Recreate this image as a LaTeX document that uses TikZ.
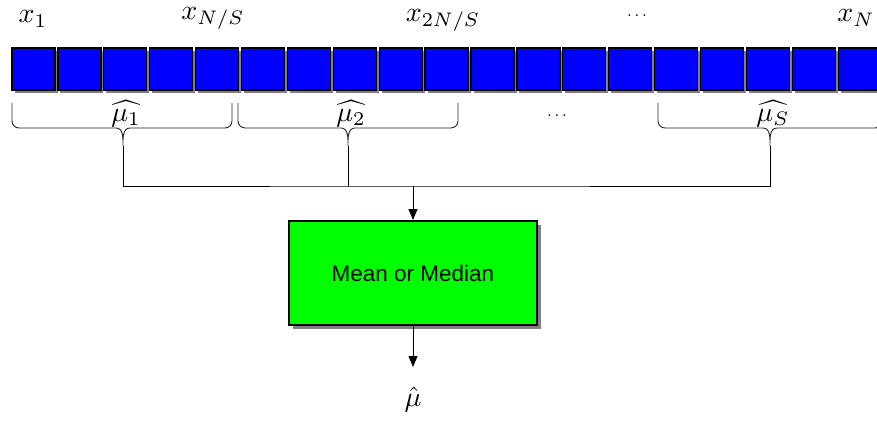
\documentclass[tikz,border=0pt]{standalone}
\usepackage{graphicx}
\usepackage{fontspec}
\newfontfamily\arialfont{Liberation Sans}
\usetikzlibrary{arrows.meta,shadows}
\newcommand\lblmath[1]{\scalebox{2.8}{$#1$}}
\newcommand\lbldots{\scalebox{1.7}{$\ldots$}}
\begin{document}
\begin{tikzpicture}[x=1pt,y=-1pt,
  cell/.style={draw=black,line width=1.3pt,fill=blue,minimum width=43pt,minimum height=42pt,inner sep=0pt,
    drop shadow={shadow xshift=2.5pt,shadow yshift=-2.5pt,fill=black!50,opacity=1}},
  procbox/.style={draw=black,line width=2pt,fill=green,minimum width=248pt,minimum height=104pt,inner sep=0pt,
    font=\arialfont\fontsize{22.5}{27}\selectfont,
    drop shadow={shadow xshift=4pt,shadow yshift=-4pt,fill=black!50,opacity=1}},
  lbl/.style={inner sep=0pt},
  bracestyle/.style={line width=0.9pt,draw=black!85},
  conn/.style={line width=0.9pt,draw=black},
  arr/.style={conn,-{Triangle[length=11pt,width=9pt]}}]
\useasboundingbox (0,0) rectangle (877,423);
\clip (0,0) rectangle (877,423);
% cells
\foreach \i in {0,...,18}
  \node[cell] (c\i) at ({33.5+45.9*\i},69) {};
% top labels
\node[lbl] (x1) at (33,19) {\lblmath{x_1}};
\node[lbl] (xNS) at (213,18) {\lblmath{x_{N/S}}};
\node[lbl] (x2NS) at (443,20) {\lblmath{x_{2N/S}}};
\node[lbl] (xdots) at (637,16) {\lbldots};
\node[lbl] (xN) at (856,18) {\lblmath{x_N}};
% braces
\foreach \l/\t/\r/\n in {12/123/232/1, 238/348/458/2, 658/770/882/3} {
  \draw[bracestyle] (\l,103) -- (\l,121) to[out=-90,in=180] ({\l+7},128) -- ({\t-7},128)
     to[out=0,in=90] (\t,146) to[out=90,in=180] ({\t+7},128) -- ({\r-7},128)
     to[out=0,in=-90] (\r,121) -- (\r,103);
  \coordinate (tip\n) at (\t,146);
}
\node[lbl] (m1) at (126,114) {\lblmath{\widehat{\mu_1}}};
\node[lbl] (m2) at (351,114) {\lblmath{\widehat{\mu_2}}};
\node[lbl] (mdots) at (557,116) {\lbldots};
\node[lbl] (mS) at (773,114) {\lblmath{\widehat{\mu_S}}};
% box
\node[procbox] (box) at (413,273) {Mean or Median};
\coordinate (join) at (413,186);
\coordinate (outp) at (413,367);
\draw[conn] (tip1) |- (join) -| (tip3);
\draw[conn] (tip2) -- (tip2 |- join);
\draw[arr] (join) -- (box.north);
\draw[arr] (box.south) -- (outp);
\node[lbl] (muhat) at (413,399) {\lblmath{\hat{\mu}}};
\end{tikzpicture}
\end{document}
